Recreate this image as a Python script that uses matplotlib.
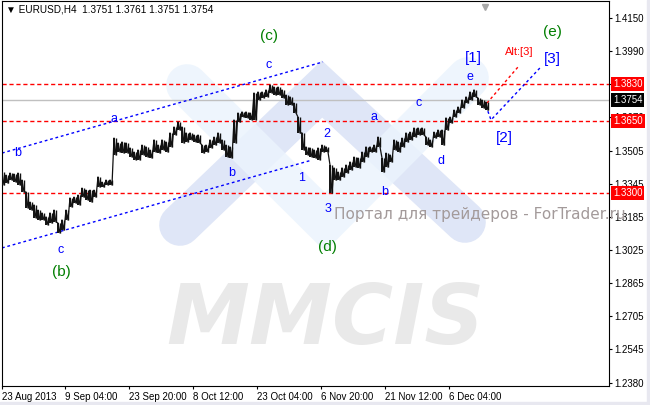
import numpy as np
import matplotlib.pyplot as plt
from matplotlib.patches import Rectangle

# EURUSD H4, high / low sampled every 4 bars
highs = [1.3404, 1.3389, 1.3399, 1.3394, 1.3399, 1.3365, 1.3307, 1.3258, 1.3244, 1.3219,
         1.3205, 1.3186, 1.3205, 1.3219, 1.3156, 1.3171, 1.3219, 1.3278, 1.3282, 1.3292,
         1.3326, 1.3316, 1.3316, 1.3316, 1.3380, 1.3355, 1.3365, 1.3365, 1.3569, 1.3545,
         1.3550, 1.3545, 1.3521, 1.3501, 1.3511, 1.3535, 1.3526, 1.3511, 1.3560, 1.3535,
         1.3560, 1.3550, 1.3594, 1.3623, 1.3647, 1.3623, 1.3594, 1.3594, 1.3584, 1.3584,
         1.3535, 1.3535, 1.3560, 1.3574, 1.3594, 1.3560, 1.3535, 1.3526, 1.3657, 1.3691,
         1.3696, 1.3696, 1.3691, 1.3788, 1.3793, 1.3793, 1.3803, 1.3827, 1.3817, 1.3817,
         1.3803, 1.3778, 1.3769, 1.3739, 1.3671, 1.3594, 1.3526, 1.3521, 1.3511, 1.3521,
         1.3535, 1.3526, 1.3438, 1.3424, 1.3404, 1.3424, 1.3438, 1.3453, 1.3477, 1.3472,
         1.3501, 1.3526, 1.3526, 1.3535, 1.3574, 1.3472, 1.3496, 1.3487, 1.3560, 1.3550,
         1.3569, 1.3594, 1.3598, 1.3618, 1.3618, 1.3618, 1.3574, 1.3560, 1.3598, 1.3608,
         1.3608, 1.3667, 1.3671, 1.3705, 1.3720, 1.3754, 1.3769, 1.3793, 1.3803, 1.3764,
         1.3754, 1.3744]
lows = [1.3341, 1.3350, 1.3365, 1.3355, 1.3341, 1.3307, 1.3229, 1.3219, 1.3181, 1.3171,
        1.3171, 1.3147, 1.3156, 1.3161, 1.3108, 1.3122, 1.3171, 1.3234, 1.3253, 1.3244,
        1.3282, 1.3268, 1.3258, 1.3282, 1.3331, 1.3331, 1.3341, 1.3341, 1.3487, 1.3501,
        1.3496, 1.3496, 1.3477, 1.3463, 1.3463, 1.3487, 1.3477, 1.3472, 1.3501, 1.3496,
        1.3511, 1.3501, 1.3526, 1.3584, 1.3608, 1.3545, 1.3550, 1.3560, 1.3550, 1.3545,
        1.3496, 1.3501, 1.3521, 1.3535, 1.3545, 1.3511, 1.3477, 1.3472, 1.3545, 1.3647,
        1.3671, 1.3667, 1.3657, 1.3657, 1.3754, 1.3764, 1.3769, 1.3788, 1.3778, 1.3778,
        1.3764, 1.3730, 1.3730, 1.3691, 1.3594, 1.3511, 1.3487, 1.3477, 1.3472, 1.3463,
        1.3501, 1.3501, 1.3302, 1.3365, 1.3365, 1.3380, 1.3399, 1.3414, 1.3428, 1.3424,
        1.3453, 1.3477, 1.3501, 1.3501, 1.3526, 1.3404, 1.3428, 1.3453, 1.3511, 1.3501,
        1.3526, 1.3550, 1.3560, 1.3574, 1.3584, 1.3584, 1.3535, 1.3526, 1.3569, 1.3574,
        1.3535, 1.3608, 1.3642, 1.3671, 1.3691, 1.3715, 1.3739, 1.3754, 1.3769, 1.3730,
        1.3715, 1.3705]
bar_step = 4

date_ticks = [0, 63, 127, 191, 255, 319, 383, 447]
date_labels = ['23 Aug 2013', '9 Sep 04:00', '23 Sep 20:00', '8 Oct 12:00',
               '23 Oct 04:00', '6 Nov 20:00', '21 Nov 12:00', '6 Dec 04:00']
price_ticks = [1.4150, 1.3990, 1.3830, 1.3670, 1.3505, 1.3345, 1.3185,
               1.3025, 1.2865, 1.2705, 1.2545, 1.2380]

red_levels = [1.3830, 1.3650, 1.3300]
bid = 1.3754

upper_x, upper_y = [0, 321], [1.3496, 1.3939]
lower_x, lower_y = [0, 310], [1.3035, 1.3462]
alt_x, alt_y = [485, 517], [1.3739, 1.3920]
proj_x, proj_y = [484, 489, 538], [1.3725, 1.3657, 1.3910]

small_labels = [('b', 16, 1.3496), ('a', 112, 1.3662), ('c', 267, 1.3924),
                ('c', 59, 1.3025), ('b', 230, 1.3399), ('2', 325, 1.3589),
                ('1', 300, 1.3375), ('3', 326, 1.3224), ('a', 372, 1.3671),
                ('c', 417, 1.3739), ('b', 383, 1.3307), ('d', 439, 1.3458),
                ('e', 468, 1.3866)]
big_labels = [('[1]', 471, 1.3958), ('[2]', 502, 1.3569), ('[3]', 550, 1.3953)]
green_labels = [('(c)', 267, 1.4065), ('(b)', 59, 1.2918),
                ('(d)', 325, 1.3040), ('(e)', 550, 1.4084)]

W, H = 650, 405
fig = plt.figure(figsize=(6.5, 4.05), dpi=100)
ax = fig.add_axes([2 / W, 19 / H, 607 / W, 385 / H])
ax.set_xlim(0, 607)
ax.set_ylim(1.2364, 1.4235)


def fx(px, py):
    return px / W, 1 - py / H


# faint logo behind the chart
lam = [fx(180, 225), fx(322, 89), fx(465, 222)]
vee = [fx(187, 85), fx(325, 222), fx(468, 78)]
ax.plot(*zip(*lam), transform=fig.transFigure, color='#dfe6f7', lw=30,
        solid_capstyle='round', solid_joinstyle='miter', zorder=0.5)
ax.plot(*zip(*vee), transform=fig.transFigure, color='#ebf4fd', lw=30, alpha=0.85,
        solid_capstyle='round', solid_joinstyle='miter', zorder=0.6)
ax.text(*fx(325, 344), 'MMCIS', transform=fig.transFigure, ha='center', va='baseline',
        fontsize=60, weight='bold', style='italic', color='#e9e9e9', zorder=0.7)

# levels
for lv in red_levels:
    ax.axhline(lv, color='#ff0000', lw=1, dashes=(3, 2), zorder=1)
ax.axhline(bid, color='#c0c0c0', lw=1, zorder=1)

# channels and projections
ax.plot(upper_x, upper_y, color='#0000ff', lw=1, dashes=(2, 2), zorder=2)
ax.plot(lower_x, lower_y, color='#0000ff', lw=1, dashes=(2, 2), zorder=2)
ax.plot(alt_x, alt_y, color='#ff0000', lw=1, dashes=(2, 2), zorder=2)
ax.plot(proj_x, proj_y, color='#0000ff', lw=1, dashes=(2, 2), zorder=2)

# price bars: vertical high-low strokes joined by a zigzag
xs = np.arange(len(highs)) * bar_step
hi = np.array(highs)
lo = np.array(lows)
zx = np.empty(2 * len(xs))
zy = np.empty(2 * len(xs))
zx[0::2], zx[1::2] = xs, xs + 2
zy[0::2], zy[1::2] = hi, lo
ax.vlines(xs, lo, hi, color='#111111', lw=1.4, zorder=3)
ax.vlines(xs + 2, lo, hi, color='#111111', lw=1.0, zorder=3)
ax.plot(zx, zy, color='#111111', lw=0.9, zorder=3)

# wave labels
lab_font = ['Liberation Sans', 'DejaVu Sans']
for t, x, y in small_labels:
    ax.text(x, y, t, color='#0000ff', fontsize=9, ha='center', va='center',
            family=lab_font, zorder=4)
for t, x, y in big_labels:
    ax.text(x, y, t, color='#0000ff', fontsize=11, ha='center', va='center',
            family=lab_font, zorder=4)
for t, x, y in green_labels:
    ax.text(x, y, t, color='#007f00', fontsize=11, ha='center', va='center',
            family=lab_font, zorder=4)
ax.text(alt_x[1], 1.3987, 'Alt:[3]', color='#ff0000', fontsize=8, ha='center',
        va='center', family=lab_font, zorder=4)

# axes look
for s in ax.spines.values():
    s.set_linewidth(0.8)
    s.set_color('black')
ax.yaxis.tick_right()
ax.set_yticks(price_ticks)
# 1.3830 sits fully under its red price tag
ax.set_yticklabels(['' if p == 1.3830 else f'{p:.4f}' for p in price_ticks])
ax.set_xticks(date_ticks)
ax.set_xticklabels(date_labels)
for lbl in ax.get_xticklabels() + ax.get_yticklabels():
    lbl.set_family(['Liberation Sans', 'DejaVu Sans'])
for lbl in ax.get_xticklabels():
    lbl.set_ha('left')
ax.tick_params(axis='both', length=2.5, width=0.8, labelsize=7, pad=1.5)

# price tags on the right
ytr = ax.get_yaxis_transform()
for lv, bg in [(1.3830, '#ff0000'), (bid, 'black'), (1.3650, '#ff0000'), (1.3300, '#ff0000')]:
    ax.text(1.0066, lv, f'{lv:.4f}', transform=ytr, color='white', fontsize=7,
            ha='left', va='center', clip_on=False, zorder=5, family=lab_font,
            bbox=dict(boxstyle='square,pad=0.2', fc=bg, ec='none'))

ax.plot([483], [0.985], marker='v', ms=5, color='#a8a8a8',
        transform=ax.get_xaxis_transform(), clip_on=False, zorder=5)

fig.text(*fx(6, 10), '\u25bc EURUSD,H4  1.3751 1.3761 1.3751 1.3754',
         fontsize=7.2, va='center', ha='left', family=['Liberation Sans', 'DejaVu Sans'])
fig.text(*fx(334, 219), 'Портал для трейдеров - ForTrader.ru', fontsize=11,
         color='#a39a9a', va='baseline', ha='left', zorder=10)

fig.patches.append(Rectangle((0, 0), 1, 3 / H, transform=fig.transFigure,
                             color='#e8e8f0', zorder=-1))
fig.patches.append(Rectangle((647 / W, 0), 3 / W, 1, transform=fig.transFigure,
                             color='#e8e8f0', zorder=-1))

fig.savefig('out.png', dpi=100)
